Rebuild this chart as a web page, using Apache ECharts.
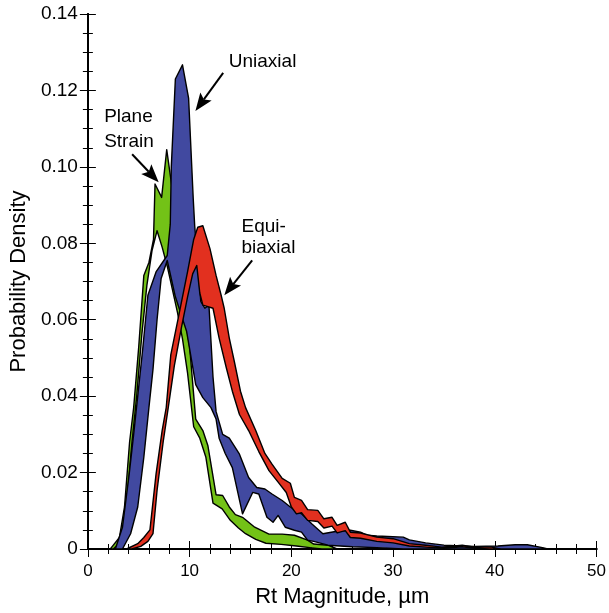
<!DOCTYPE html>
<html>
<head>
<meta charset="utf-8">
<script src="https://cdn.jsdelivr.net/npm/echarts@6.0.0/dist/echarts.min.js"></script>
<style>
  html, body { margin: 0; padding: 0; background: #fff; }
  #chart { width: 609px; height: 613px; }
</style>
</head>
<body>
<div id="chart"></div>
<script>
// band outlines: [Rt magnitude (um), probability density]
const greenUpper = [[2.2,0],[2.5,0.001],[3.1,0.003],[3.6,0.011],[4.1,0.028],[4.5,0.037],[5.0,0.053],[5.5,0.0716],[6.0,0.075],[6.45,0.081],[6.6,0.0955],[7.25,0.092],[7.75,0.1045],[8.3,0.094],[8.8,0.075],[9.4,0.063],[10.0,0.053],[10.6,0.034],[11.3,0.031],[11.8,0.027],[12.6,0.0142],[13.25,0.014],[13.9,0.011],[14.5,0.009],[15.2,0.0083],[16.4,0.0057],[17.8,0.0039],[19.1,0.0039],[20.3,0.0036],[21.6,0.0023],[22.2,0.0013],[23.6,0.001],[24.5,0]];
const greenLower = [[2.5,0],[3.3,0.002],[3.8,0.011],[4.3,0.027],[4.8,0.04],[5.3,0.056],[5.8,0.069],[6.3,0.078],[6.8,0.0833],[7.3,0.079],[7.8,0.074],[8.3,0.068],[8.8,0.062],[9.3,0.055],[9.8,0.046],[10.4,0.032],[11.0,0.029],[11.6,0.024],[12.3,0.012],[13.2,0.0105],[14.0,0.0075],[14.8,0.0055],[15.5,0.004],[16.5,0.0025],[17.5,0.0015],[19,0.0012],[20.5,0.0008],[22,0.0003],[23,0]];

const blueUpper = [[2.7,0],[3.4,0.0057],[4.06,0.0196],[4.5,0.030],[4.9,0.04],[5.4,0.0526],[5.9,0.0664],[6.7,0.0725],[7.8,0.0768],[8.1,0.085],[8.2,0.1],[8.6,0.123],[9.3,0.1267],[9.9,0.118],[10.35,0.092],[10.5,0.0846],[11.1,0.0648],[11.5,0.063],[11.9,0.0638],[12.3,0.045],[12.6,0.036],[13.25,0.030],[13.9,0.029],[14.9,0.0248],[15.8,0.0187],[16.6,0.0161],[17.4,0.0157],[18.1,0.0144],[19.1,0.0127],[19.9,0.011],[21.0,0.0092],[22.0,0.0066],[23.1,0.004],[24.2,0.0045],[25.8,0.0049],[26.8,0.0044],[27.4,0.0036],[28.4,0.0034],[31.0,0.0031],[31.6,0.0024],[33.2,0.0016],[35,0.001],[38,0.0007],[40.3,0.0008],[42,0.0011],[43.2,0.0011],[44.8,0.0003],[45.2,0]];
const blueLower = [[3.4,0],[4.2,0.004],[4.9,0.011],[5.5,0.024],[6.0,0.037],[6.4,0.047],[6.8,0.06],[7.2,0.0708],[7.8,0.0755],[8.6,0.066],[9.7,0.057],[10.6,0.043],[11.3,0.0396],[12.1,0.037],[12.6,0.034],[12.9,0.029],[13.5,0.025],[14.2,0.0213],[15.2,0.0092],[16.2,0.0148],[16.8,0.0144],[17.6,0.0083],[18.2,0.007],[18.7,0.0088],[19.4,0.0057],[20.3,0.0049],[21.0,0.0044],[21.6,0.0023],[22.2,0.002],[23.6,0.001],[26,0.0006],[29,0.0003],[31,0]];

const redUpper = [[3.8,0],[4.9,0.0014],[5.5,0.003],[6.1,0.005],[6.7,0.0196],[7.3,0.031],[7.7,0.037],[8.15,0.0508],[9.0,0.062],[9.8,0.0726],[10.4,0.081],[10.8,0.0842],[11.3,0.0846],[12.0,0.0786],[12.6,0.0716],[13.1,0.0664],[13.4,0.063],[13.9,0.0552],[14.4,0.049],[15.0,0.0413],[15.5,0.037],[16.5,0.031],[17.4,0.025],[18.1,0.0222],[19.1,0.0185],[19.9,0.0172],[20.3,0.0135],[21.0,0.0127],[21.6,0.0103],[22.6,0.0101],[23.2,0.0079],[24.0,0.0083],[24.5,0.0062],[25.3,0.007],[25.8,0.0044],[26.8,0.0042],[28.4,0.0031],[30.0,0.0027],[31.6,0.0014],[33.2,0.001],[34.8,0.0005],[36.8,0.001],[38,0.0005],[39.7,0.0005],[40.5,0]];
const redLower = [[4.3,0],[5.2,0.0007],[5.9,0.002],[6.4,0.004],[6.8,0.0153],[7.4,0.028],[7.9,0.037],[8.5,0.048],[9.2,0.058],[9.8,0.066],[10.3,0.072],[10.7,0.0742],[11.0,0.067],[11.3,0.0638],[12.3,0.063],[12.9,0.0552],[13.6,0.0475],[14.2,0.0413],[14.9,0.0352],[15.8,0.031],[16.8,0.0255],[17.8,0.0205],[18.7,0.0175],[19.5,0.0148],[20.0,0.011],[20.5,0.0092],[21.0,0.0095],[21.6,0.0075],[22.6,0.0072],[23.2,0.0055],[24.0,0.006],[24.5,0.0042],[25.3,0.0048],[25.8,0.003],[26.8,0.0028],[28.4,0.002],[30.0,0.0016],[31.6,0.0008],[33.2,0.0005],[35,0.0002],[36.8,0.0006],[38,0.0002],[39.5,0]];

// annotations: text anchor [x, y, text] and arrows [fromX, fromY, toX, toY]
const labels = [
  [13.85, 0.1275, 'Uniaxial'],
  [1.6, 0.1132, 'Plane'],
  [1.6, 0.1066, 'Strain'],
  [15.1, 0.0843, 'Equi-'],
  [15.1, 0.0788, 'biaxial']
];
const arrows = [
  [13.3, 0.1246, 10.57, 0.1146],
  [4.35, 0.1033, 6.96, 0.0960],
  [16.15, 0.0755, 13.41, 0.0664]
];

const FONT = '"Liberation Sans", Arial, Helvetica, sans-serif';

function bandSeries(name, upper, lower, color) {
  return {
    name: name,
    type: 'custom',
    coordinateSystem: 'cartesian2d',
    data: [[0, 0]],
    renderItem: (params, api) => {
      const pts = upper.concat(lower.slice().reverse()).map(p => api.coord(p));
      return {
        type: 'polygon',
        shape: { points: pts },
        style: { fill: color, stroke: '#000', lineWidth: 1.4, lineJoin: 'round' }
      };
    },
    silent: true
  };
}

const chart = echarts.init(document.getElementById('chart'));

const tickStyle = { color: '#000', width: 1 };

const option = {
  animation: false,
  backgroundColor: '#fff',
  grid: { left: 83, right: 9, top: 14, bottom: 61 },
  xAxis: [
    {
      type: 'value', min: 0, max: 50, interval: 10,
      name: 'Rt Magnitude, \u00b5m', nameLocation: 'middle', nameGap: 37,
      nameTextStyle: { color: '#000', fontSize: 22, fontFamily: FONT },
      axisLine: { lineStyle: { color: '#000', width: 2 } },
      axisTick: { inside: true, length: 8, lineStyle: tickStyle },
      minorTick: { show: true, splitNumber: 5, length: 5, lineStyle: tickStyle },
      axisLabel: { color: '#000', fontSize: 17, fontFamily: FONT, margin: 14 },
      splitLine: { show: false }
    },
    {
      type: 'value', min: 0, max: 50, interval: 10, position: 'top',
      axisLine: { lineStyle: { color: '#000', width: 2 } },
      axisTick: { inside: true, length: 8, lineStyle: tickStyle },
      minorTick: { show: true, splitNumber: 5, length: 5, lineStyle: tickStyle },
      axisLabel: { show: false },
      splitLine: { show: false }
    }
  ],
  yAxis: [
    {
      type: 'value', min: 0, max: 0.14, interval: 0.02,
      name: 'Probability Density', nameLocation: 'middle', nameGap: 54,
      nameTextStyle: { color: '#000', fontSize: 22, fontFamily: FONT },
      axisLine: { lineStyle: { color: '#000', width: 2 } },
      axisTick: { inside: true, length: 8, lineStyle: tickStyle },
      minorTick: { show: true, splitNumber: 4, length: 5, lineStyle: tickStyle },
      axisLabel: {
        color: '#000', fontSize: 19, fontFamily: FONT, margin: 10,
        formatter: v => (v === 0 ? '0' : v.toFixed(2))
      },
      splitLine: { show: false }
    },
    {
      type: 'value', min: 0, max: 0.14, interval: 0.02, position: 'right',
      axisLine: { lineStyle: { color: '#000', width: 2 } },
      axisTick: { inside: true, length: 8, lineStyle: tickStyle },
      minorTick: { show: true, splitNumber: 4, length: 5, lineStyle: tickStyle },
      axisLabel: { show: false },
      splitLine: { show: false }
    }
  ],
  series: [
    bandSeries('Plane Strain', greenUpper, greenLower, '#73c217'),
    bandSeries('Uniaxial', blueUpper, blueLower, '#4149a0'),
    bandSeries('Equibiaxial', redUpper, redLower, '#e2301f'),
    {
      name: 'arrows',
      type: 'custom',
      data: arrows,
      silent: true,
      renderItem: (params, api) => {
        const p0 = api.coord([api.value(0), api.value(1)]);
        const p1 = api.coord([api.value(2), api.value(3)]);
        const dx = p1[0] - p0[0], dy = p1[1] - p0[1];
        const len = Math.sqrt(dx * dx + dy * dy);
        const ux = dx / len, uy = dy / len;
        const nx = -uy, ny = ux;
        const headLen = 18, headW = 7;
        const base = [p1[0] - ux * headLen, p1[1] - uy * headLen];
        const notch = [p1[0] - ux * headLen * 0.8, p1[1] - uy * headLen * 0.8];
        return {
          type: 'group',
          children: [
            {
              type: 'line',
              shape: { x1: p0[0], y1: p0[1], x2: notch[0], y2: notch[1] },
              style: { stroke: '#000', lineWidth: 2 }
            },
            {
              type: 'polygon',
              shape: { points: [p1, [base[0] + nx * headW, base[1] + ny * headW], notch, [base[0] - nx * headW, base[1] - ny * headW]] },
              style: { fill: '#000' }
            }
          ]
        };
      }
    },
    {
      name: 'labels',
      type: 'custom',
      data: labels,
      silent: true,
      renderItem: (params, api) => {
        const p = api.coord([api.value(0), api.value(1)]);
        return {
          type: 'text',
          x: p[0], y: p[1],
          style: {
            text: labels[params.dataIndex][2],
            fill: '#000',
            font: '19px ' + FONT,
            textAlign: 'left',
            textVerticalAlign: 'middle'
          }
        };
      }
    }
  ]
};

chart.setOption(option);
</script>
</body>
</html>
